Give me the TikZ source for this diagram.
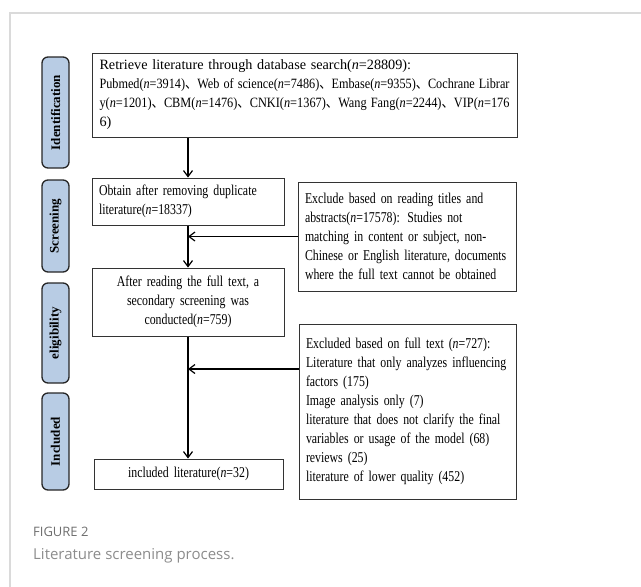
\documentclass[tikz,border=0pt]{standalone}
\usepackage{fontspec}
\usepackage{graphicx}
\setmainfont{Liberation Serif}
\newfontfamily\narrowfont{Liberation Serif}[FakeStretch=0.79]
\newfontfamily\cjk{Noto Sans CJK SC}
\newfontfamily\capfont{Open Sans}
\usepackage{xcolor}
\usetikzlibrary{arrows.meta,positioning}
\tikzset{
  flowarrow/.style={-{Straight Barb[length=6pt,width=9pt]}, line width=1.2pt, draw=black},
  flowbox/.style={draw=black!80, line width=1pt, inner xsep=7pt, inner ysep=2pt,
    font=\narrowfont\fontsize{15}{19}\selectfont},
  stagebox/.style={draw=black!85, line width=1.3pt, fill=StageBlue, rounded corners=6pt,
    rotate=90, minimum height=27pt, inner sep=0pt, font=\fontsize{13}{16}\selectfont\bfseries}
}
\definecolor{StageBlue}{HTML}{B8CCE4}
\definecolor{FrameGray}{HTML}{DADADA}
\definecolor{CapGray}{HTML}{6E6E6E}
\definecolor{CapLight}{HTML}{8C8C8C}
\newcommand{\dun}{{\cjk 、}}
\hyphenpenalty=10000

\begin{document}
\begin{tikzpicture}[
  x=1pt, y=-1pt
]
\useasboundingbox (0,0) rectangle (641,587);
\draw[FrameGray, line width=1.3pt] (10,587) -- (10,13) -- (641,13);

% stages on the left
\node[stagebox, minimum width=111pt] at (55.5,112.5) (ident) {Identification};
\node[stagebox, minimum width=92pt] at (55.5,226) (screen) {Screening};
\node[stagebox, minimum width=100pt] at (55.5,333) (elig) {eligibility};
\node[stagebox, minimum width=97pt] at (55.5,441.5) (incl) {Included};

% main flow
\node[flowbox, font=\fontsize{14.2}{19}\selectfont, minimum width=425pt, minimum height=84pt, text width=410pt, align=left, inner xsep=7.5pt] at (304.5,95) (search) {Retrieve literature through database search(\textit{n}=28809):\\
\resizebox{\linewidth}{\height}{Pubmed(\textit{n}=3914)\dun Web of science(\textit{n}=7486)\dun Embase(\textit{n}=9355)\dun Cochrane Librar}\\
\resizebox{\linewidth}{\height}{y(\textit{n}=1201)\dun CBM(\textit{n}=1476)\dun CNKI(\textit{n}=1367)\dun Wang Fang(\textit{n}=2244)\dun VIP(\textit{n}=176}\\
6)};
\node[flowbox, minimum width=192pt, minimum height=47pt, text width=178pt, align=left] at (188,201.5) (dedup) {Obtain after removing duplicate\\literature(\textit{n}=18337)};
\node[flowbox, minimum width=192pt, minimum height=68pt, text width=178pt, align=center] at (188,302) (fulltext) {After reading the full text, a\\secondary screening was\\conducted(\textit{n}=759)};
\node[flowbox, minimum width=189pt, minimum height=30pt, text width=175pt, align=center] at (188.5,474) (included) {included literature(\textit{n}=32)};

% exclusions on the right
\node[flowbox, minimum width=218pt, minimum height=109pt, text width=204pt, align=left] at (407,236.5) (excltitle) {Exclude based on reading titles and\\abstracts(\textit{n}=17578): Studies not\\matching in content or subject, non-\\Chinese or English literature, documents\\where the full text cannot be obtained};
\node[flowbox, minimum width=217pt, minimum height=175pt, text width=203pt, align=left] at (407.5,411.5) (exclfull) {Excluded based on full text (\textit{n}=727):\\Literature that only analyzes influencing\\factors (175)\\Image analysis only (7)\\literature that does not clarify the final\\variables or usage of the model (68)\\reviews (25)\\literature of lower quality (452)};

\coordinate (fulljoin) at ([yshift=42.5pt]exclfull.west);

\draw[flowarrow] (search.south -| dedup.north) -- (dedup.north);
\draw[flowarrow] (dedup.south) -- (fulltext.north);
\draw[flowarrow] (excltitle.west) -- (excltitle.west -| dedup.south);
\draw[flowarrow] (fulltext.south) -- (fulltext.south |- included.north);
\draw[flowarrow] (fulljoin) -- (fulljoin -| fulltext.south);

% caption
\node[anchor=base west, inner sep=0pt, text=CapGray, font=\capfont\fontsize{13}{15}\selectfont] at (33,536) (figlabel) {FIGURE 2};
\node[anchor=base west, inner sep=0pt, text=CapLight, font=\capfont\fontsize{15}{19}\selectfont] at (33,559) (figtitle) {Literature screening process.};
\end{tikzpicture}
\end{document}
